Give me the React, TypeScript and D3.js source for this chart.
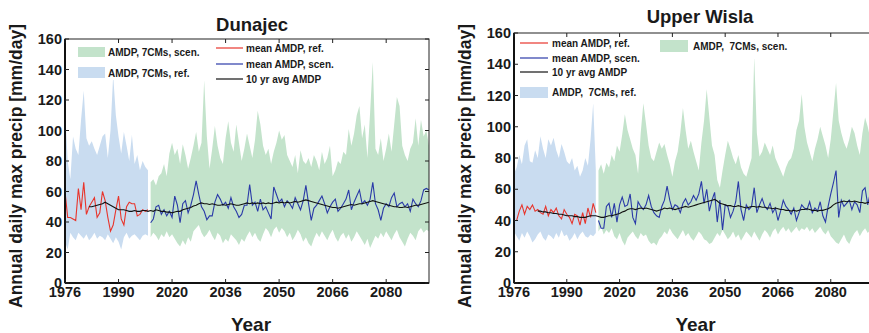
import * as d3 from "d3";

// x = running index of the simulation year (reference run, then scenario run)
const TICK_IDX = [0, 20, 40, 60, 80, 100, 120];
const TICK_LABELS = ["1976", "1990", "2020", "2036", "2050", "2066", "2080"];
const Y_TICKS = [0, 20, 40, 60, 80, 100, 120, 140, 160];
const SCEN_START = 32;
const AVG_START = 9;

// ---- Dunajec ----
const dunRefMean = [60, 43, 43, 42, 41, 62, 48, 66, 45, 50, 53, 56, 43, 46, 60, 54, 43, 34, 38, 48, 57, 42, 38, 50, 53, 52, 52, 44, 45, 48, 47, 48];
const dunRefUpper = [115, 80, 68, 96, 88, 84, 107, 126, 95, 90, 93, 88, 84, 90, 96, 98, 82, 100, 136, 110, 96, 85, 99, 90, 80, 97, 78, 84, 74, 80, 76, 74];
const dunRefLower = [27, 22, 33, 30, 28, 33, 31, 29, 32, 28, 30, 33, 29, 31, 30, 28, 32, 29, 26, 30, 27, 22, 30, 33, 29, 31, 32, 30, 28, 31, 32, 31];
const dunScenMean = [
  39.5, 42, 50, 51, 45, 48, 44, 47, 43, 57, 51, 39.5, 52, 54, 46, 51, 58, 67, 58, 50,
  47, 41.5, 44, 44, 53, 58, 55, 51, 53, 49, 56, 50, 47, 43, 45, 51, 51, 64.5, 51, 53,
  47, 55, 48, 50, 46, 42, 63, 58, 53, 55, 50, 54, 52, 49, 56, 52, 48, 54, 64, 52,
  41, 49, 51, 54, 57, 52, 46, 50, 53, 55, 47, 49, 52, 55, 61, 48, 53, 57, 61, 52,
  54, 51, 55, 66, 52, 48, 41, 49, 52, 50, 56, 59, 50, 52, 53, 50, 52, 47, 55, 52,
  50, 54, 61, 62, 61,
];
const dunScenUpper = [
  66, 68, 64, 70, 72, 78, 70, 85, 92, 84, 88, 78, 91, 84, 75, 82, 90, 99, 86, 92,
  133, 96, 75, 88, 103, 90, 82, 78, 95, 106, 92, 86, 104, 92, 80, 88, 98, 90, 82, 94,
  113, 104, 90, 84, 88, 78, 86, 92, 100, 94, 97, 84, 80, 76, 84, 72, 87, 80, 78, 82,
  76, 84, 80, 74, 86, 78, 82, 90, 70, 74, 80, 78, 86, 84, 101, 90, 98, 110, 116, 95,
  104, 82, 112, 145, 88, 84, 95, 80, 88, 98, 86, 104, 122, 116, 90, 84, 80, 88, 92, 108,
  90, 107, 96, 100, 90,
];
const dunScenLower = [
  30, 33, 31, 28, 32, 30, 34, 30, 32, 29, 26, 24, 28, 25, 30, 27, 34, 36, 38, 33,
  30, 32, 35, 31, 28, 33, 31, 26, 29, 27, 32, 30, 28, 25, 29, 27, 31, 34, 30, 33,
  29, 27, 32, 36, 34, 30, 35, 37, 33, 36, 34, 30, 33, 28, 31, 35, 32, 27, 30, 26,
  24, 29, 33, 30, 34, 31, 28, 32, 35, 30, 27, 31, 33, 29, 32, 27, 30, 34, 31, 28,
  25, 29, 23, 27, 31, 29, 33, 30, 34, 31, 28, 32, 35, 30, 27, 24, 29, 33, 31, 28,
  34, 36, 33, 35, 34,
];
const dunAvg = [
  50, 50, 50.5, 51, 51.5, 52, 53, 52, 51, 50, 49, 48, 48, 48, 47.5, 47, 47, 47.5, 47, 47,
  47.5, 47.5, 47, 47.5, 47, 48, 47.5, 47, 47, 46.5, 46.5, 46, 46.5, 47, 47, 48, 48.5, 49, 49.5, 50.5,
  51, 52, 52.5, 52, 52, 51.5, 52, 51.5, 51, 51, 51.5, 51, 51.5, 52, 51.5, 51, 51, 51.5, 52, 52.5,
  52, 52.5, 52, 52.5, 52, 52.5, 52, 52.5, 52, 52.5, 53, 52.5, 53, 52.5, 53, 52.5, 53, 53.5, 53, 53.5,
  54, 54.5, 54, 53.5, 53, 52.5, 52, 51.5, 51, 50.5, 50, 49.5, 49.5, 49, 49.5, 50, 50.5, 51, 51.5, 51,
  51.5, 52, 52, 52.5, 53, 53.5, 54, 53.5, 53, 52.5, 52, 51.5, 51, 50.5, 50, 50, 49.5, 49.5, 50, 49.5,
  50, 50.5, 51, 51, 51.5, 52, 52.5, 53,
];

// ---- Upper Wisla ----
const wisRefMean = [40, 40, 46, 50, 44, 49, 47, 50, 46, 47, 45, 44, 49, 43, 47, 45, 48, 43, 41, 47, 44, 42, 38, 44, 43, 37, 45, 38, 48, 42, 51, 45];
const wisRefUpper = [70, 74, 82, 76, 88, 92, 78, 77, 85, 80, 94, 86, 80, 92, 88, 93, 85, 80, 89, 84, 78, 76, 80, 72, 75, 68, 72, 80, 75, 92, 115, 72];
const wisRefLower = [33, 30, 27, 32, 29, 33, 30, 26, 28, 31, 33, 29, 27, 31, 30, 28, 32, 29, 34, 30, 31, 27, 29, 32, 28, 31, 33, 30, 29, 31, 30, 32];
const wisScenMean = [
  40, 35, 35, 49, 51, 42, 51, 39, 50, 55, 49, 50, 57, 42, 38, 52, 49, 47, 50, 56,
  49, 45, 43, 42, 49, 53, 62, 53, 47, 50, 49, 45, 51, 54, 50, 52, 56, 53, 57, 65,
  51, 60, 46, 53, 58, 39, 53, 34, 50, 49, 42, 46, 52, 65, 47, 40, 50, 47, 49, 61,
  45, 50, 54, 49, 47, 51, 45, 48, 40, 46, 53, 49, 47, 44, 48, 40, 45, 50, 48, 47,
  52, 45, 48, 46, 52, 43, 39, 49, 57, 64, 72, 42, 53, 49, 51, 53, 47, 52, 50, 45,
  59, 61, 50, 58, 52,
];
const wisScenUpper = [
  72, 76, 70, 77, 74, 82, 78, 88, 84, 95, 108, 98, 92, 86, 82, 70, 96, 115, 102, 88,
  80, 78, 84, 90, 86, 89, 82, 76, 68, 78, 84, 96, 112, 98, 86, 91, 84, 78, 72, 90,
  104, 124, 106, 88, 82, 66, 61, 72, 82, 91, 86, 80, 76, 82, 74, 70, 68, 74, 80, 145,
  96, 81, 84, 90, 86, 82, 88, 80, 76, 72, 68, 74, 78, 80, 86, 98, 104, 121, 100, 90,
  84, 78, 86, 92, 100, 94, 88, 80, 92, 110, 128, 104, 96, 90, 86, 92, 100, 96, 88, 82,
  96, 106, 100, 92, 86,
];
const wisScenLower = [
  33, 36, 31, 34, 32, 35, 30, 28, 32, 27, 24, 29, 31, 33, 30, 28, 32, 30, 31, 27,
  25, 26, 24, 28, 30, 33, 31, 35, 32, 30, 28, 31, 34, 30, 32, 29, 27, 30, 33, 31,
  28, 27, 25, 26, 29, 32, 30, 34, 31, 28, 30, 33, 29, 31, 27, 30, 33, 31, 29, 33,
  30, 27, 31, 34, 32, 29, 33, 35, 31, 34, 36, 33, 35, 32, 34, 36, 33, 35, 34, 36,
  33, 35, 32, 34, 36, 33, 31, 34, 30, 28, 26, 25, 28, 31, 27, 25, 29, 32, 34, 30,
  33, 35, 32, 34, 33,
];
const wisAvg = [
  46, 46, 45.5, 45.5, 45, 45, 44.5, 44.5, 44, 44, 43.5, 43, 43, 43, 42.5, 42.5, 42, 42, 42, 42.5,
  43, 43, 43, 42.5, 42, 42, 42.5, 43, 43, 43.5, 44, 44.5, 45.5, 46, 47, 47.5, 47.5, 47, 47.5, 48,
  47.5, 48, 47.5, 47, 46.5, 46, 46.5, 47, 48, 47.5, 48, 47.5, 47, 47.5, 48, 48.5, 49, 48.5, 49, 49.5,
  50, 50.5, 51, 51.5, 52, 52.5, 53, 53.5, 52.5, 51, 50.5, 50, 49.5, 49.5, 49, 49, 49.5, 49, 48.5, 48,
  48.5, 49, 49, 48.5, 49, 48.5, 48.5, 48, 48, 47.5, 48, 47.5, 47, 47, 46.5, 46.5, 46, 46.5, 46, 46.5,
  47, 47, 47.5, 47, 46.5, 46.5, 46, 46.5, 46.5, 47, 47.5, 48.5, 50, 51, 51.5, 52, 52.5, 52, 52.5, 52,
  52.5, 52, 51.5, 51.5, 51, 51.5, 51.5, 52,
];

const FONT = "'Liberation Sans', Arial, Helvetica, sans-serif";
const C_REF_BAND = "#c9dcf0";
const C_SCEN_BAND = "#c3e3cb";
const C_RED = "#e8352c";
const C_BLUE = "#2a3aa8";

type PanelProps = {
  title: string;
  titleX: number;
  titleY: number;
  left: number;
  right: number;
  top: number;
  bottom: number;
  ylabX: number;
  refMean: number[];
  refUpper: number[];
  refLower: number[];
  scenMean: number[];
  scenUpper: number[];
  scenLower: number[];
  avg: number[];
  legend: "dun" | "wis";
};

function Panel(p: PanelProps) {
  const x = d3.scaleLinear().domain([0, 136]).range([p.left, p.right]);
  const y = d3.scaleLinear().domain([0, 160]).range([p.bottom, p.top]);

  const band = (up: number[], lo: number[], start: number) =>
    d3.area<number>()
      .x((_, i) => x(start + i))
      .y0((_, i) => y(lo[i]))
      .y1((d) => y(d))(up) ?? "";
  const line = (vals: number[], start: number) =>
    d3.line<number>().x((_, i) => x(start + i)).y((d) => y(d))(vals) ?? "";

  const tickLen = 4;
  const txt = { fontFamily: FONT, fontWeight: 700, fill: "#1a1a1a" } as const;
  const lg = { fontFamily: FONT, fontWeight: 700, fontSize: 10, fill: "#1a1a1a", style: { whiteSpace: "pre" as const } };
  const cid = `clip-${p.legend}`;

  return (
    <g>
      <defs>
        <clipPath id={cid}>
          <rect x={p.left} y={p.top} width={p.right - p.left} height={p.bottom - p.top} />
        </clipPath>
      </defs>
      <g clipPath={`url(#${cid})`}>
        <path d={band(p.refUpper, p.refLower, 0)} fill={C_REF_BAND} />
        <path d={band(p.scenUpper, p.scenLower, SCEN_START)} fill={C_SCEN_BAND} />
        <path d={line(p.refMean, 0)} fill="none" stroke={C_RED} strokeWidth={1.1} />
        <path d={line(p.scenMean, SCEN_START)} fill="none" stroke={C_BLUE} strokeWidth={1.1} />
        <path d={line(p.avg, AVG_START)} fill="none" stroke="#111" strokeWidth={1.1} />
      </g>

      {p.legend === "dun" ? (
        <g>
          <rect x={x(0) + 1} y={p.top + 1} width={146} height={40} fill="#fff" />
          <rect x={x(0) + 148} y={p.top + 1} width={123} height={49} fill="#fff" />
          <rect x={78} y={47} width={27} height={10} fill={C_SCEN_BAND} />
          <text x={108} y={56} {...lg}>AMDP, 7CMs, scen.</text>
          <rect x={78} y={67} width={27} height={11} fill={C_REF_BAND} />
          <text x={108} y={77} {...lg}>AMDP, 7CMs, ref.</text>
          <line x1={216} x2={243} y1={48} y2={48} stroke={C_RED} strokeWidth={1.2} />
          <text x={246} y={52} {...lg}>mean AMDP, ref.</text>
          <line x1={216} x2={243} y1={64} y2={64} stroke={C_BLUE} strokeWidth={1.2} />
          <text x={246} y={68} {...lg}>mean AMDP, scen.</text>
          <line x1={216} x2={243} y1={79} y2={79} stroke="#111" strokeWidth={1.2} />
          <text x={246} y={83} {...lg}>10 yr avg AMDP</text>
        </g>
      ) : (
        <g>
          <rect x={x(0) + 1} y={p.top + 1} width={142} height={68} fill="#fff" />
          <rect x={x(0) + 144} y={p.top + 1} width={142} height={25} fill="#fff" />
          <line x1={520} x2={548} y1={43} y2={43} stroke={C_RED} strokeWidth={1.2} />
          <text x={552} y={47} {...lg}>mean AMDP, ref.</text>
          <line x1={520} x2={548} y1={58} y2={58} stroke={C_BLUE} strokeWidth={1.2} />
          <text x={552} y={62} {...lg}>mean AMDP, scen.</text>
          <line x1={520} x2={548} y1={72} y2={72} stroke="#111" strokeWidth={1.2} />
          <text x={552} y={76} {...lg}>10 yr avg AMDP</text>
          <rect x={520} y={87} width={28} height={11} fill={C_REF_BAND} />
          <text x={552} y={96} {...lg}>{"AMDP,  7CMs, ref."}</text>
          <rect x={660} y={40} width={28} height={12} fill={C_SCEN_BAND} />
          <text x={693} y={50} {...lg}>{"AMDP,  7CMs, scen."}</text>
        </g>
      )}

      {/* frame */}
      <rect x={p.left} y={p.top} width={p.right - p.left} height={p.bottom - p.top} fill="none" stroke="#222" strokeWidth={1} />
      <line x1={p.left} x2={p.left} y1={p.top} y2={p.bottom} stroke="#111" strokeWidth={2} />
      <line x1={p.left} x2={p.right} y1={p.bottom} y2={p.bottom} stroke="#111" strokeWidth={2} />

      {TICK_IDX.map((t, i) => (
        <g key={`x${t}`}>
          <line x1={x(t)} x2={x(t)} y1={p.bottom} y2={p.bottom - tickLen} stroke="#222" />
          <line x1={x(t)} x2={x(t)} y1={p.top} y2={p.top + tickLen} stroke="#222" />
          <text x={x(t)} y={p.bottom + 14} textAnchor="middle" fontSize={14.5} {...txt}>
            {TICK_LABELS[i]}
          </text>
        </g>
      ))}
      {Y_TICKS.map((t) => (
        <g key={`y${t}`}>
          <line x1={p.left} x2={p.left + tickLen} y1={y(t)} y2={y(t)} stroke="#222" />
          <line x1={p.right} x2={p.right - tickLen} y1={y(t)} y2={y(t)} stroke="#222" />
          <text x={p.left - 3} y={y(t)} dy="0.36em" textAnchor="end" fontSize={14.5} {...txt}>
            {t}
          </text>
        </g>
      ))}

      <text x={p.titleX} y={p.titleY} textAnchor="middle" fontSize={18.5} {...txt}>
        {p.title}
      </text>
      <text x={(p.left + Math.min(p.right, 869)) / 2 + 4} y={331} textAnchor="middle" fontSize={19} {...txt}>
        Year
      </text>
      <text
        transform={`translate(${p.ylabX},166) rotate(-90)`}
        textAnchor="middle"
        dy="0.36em"
        fontSize={17.5}
        {...txt}
      >
        Annual daily max precip [mm/day]
      </text>
    </g>
  );
}

export default function App() {
  return (
    <svg width={869} height={333} style={{ position: "absolute", left: 0, top: 0, background: "#fff" }}>
      <Panel
        title="Dunajec" titleX={252} titleY={31}
        left={65} right={429} top={39} bottom={283} ylabX={16}
        refMean={dunRefMean} refUpper={dunRefUpper} refLower={dunRefLower}
        scenMean={dunScenMean} scenUpper={dunScenUpper} scenLower={dunScenLower}
        avg={dunAvg} legend="dun"
      />
      <Panel
        title="Upper Wisla" titleX={700} titleY={23}
        left={514} right={873} top={33} bottom={283} ylabX={465}
        refMean={wisRefMean} refUpper={wisRefUpper} refLower={wisRefLower}
        scenMean={wisScenMean} scenUpper={wisScenUpper} scenLower={wisScenLower}
        avg={wisAvg} legend="wis"
      />
    </svg>
  );
}
